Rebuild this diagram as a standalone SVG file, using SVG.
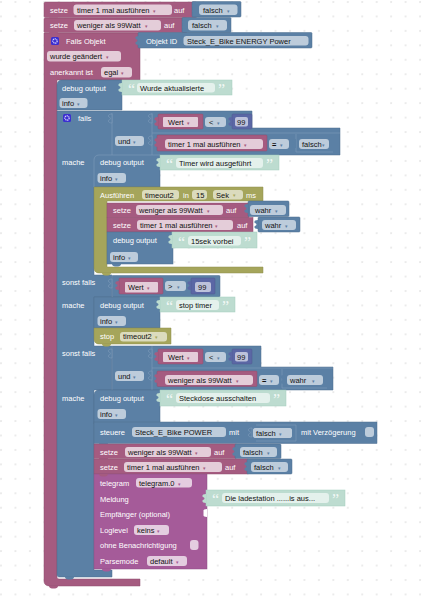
<svg xmlns="http://www.w3.org/2000/svg" width="433" height="596" viewBox="0 0 433 596">
<style>
text{font-family:"Liberation Sans",Arial,sans-serif;font-size:7.5px;fill:#fff}
text.k{fill:#111}
.p{fill:#a55b80}.b{fill:#5b80a5}.o{fill:#a5a55b}.m{fill:#a55b99}.g{fill:#bddcd0}.n{fill:#5b67a5}
.p>rect,.p>path{stroke:#8f4f6f;stroke-width:.5}
.b>rect,.b>path{stroke:#4f6f8f;stroke-width:.5}
.o>rect,.o>path{stroke:#8f8f4f;stroke-width:.5}
.m>rect,.m>path{stroke:#8f4f85;stroke-width:.5}
.n>rect{stroke:#4f598f;stroke-width:.5}
.g>rect{stroke:#a5cfbf;stroke-width:.5}
rect.fp{fill:#e4cdd9;stroke:none}rect.fb{fill:#bdccdb;stroke:none}rect.fo{fill:#dbdbbd;stroke:none}rect.fm{fill:#e4cde0;stroke:none}rect.fg{fill:#e4f1ec;stroke:none}rect.fn{fill:#bdc2db;stroke:none}
text.ap,text.ab,text.ao,text.am{font-size:5px}
text.ap{fill:#a55b80}text.ab{fill:#5b80a5}text.ao{fill:#a5a55b}text.am{fill:#a55b99}
text.q{fill:#fff;font-size:16px;font-family:"Liberation Serif",serif;opacity:.8}
.l{stroke:#7f9cba;stroke-width:.6;fill:none}
.s{fill:#5b80a5;stroke:#7f9cba;stroke-width:.6}
</style>
<defs>
<pattern id="grid" x="0" y="1" width="14.45" height="14.45" patternUnits="userSpaceOnUse">
<path d="M0 1h2M1 0v2" stroke="#dedede" stroke-width=".7"/>
</pattern>
<path id="tab" d="M0 0c-2.500 0-3.500 1-3.500 1.500v1c0 1 2 .5 2 2s-2 1-2 2v1c0 .5 1 1.500 3.500 1.500z"/>
<path id="nt" d="M0 0h9c0 1.500-1.500 2.500-3 2.500h-3c-1.500 0-3-1-3-2.500z"/>
</defs>
<rect x="0" y="0" width="422" height="596" fill="url(#grid)"/>

<g id="outer-frame" class="p">
<path d="M46 33H140V80H57V577c0 1 1 2 2 2H140V586H50c-4 0-6-2-6-5V33z"/>
<use href="#nt" x="49" y="586"/>
</g>

<g id="set-timer-false">
<g class="p"><rect x="44" y="2" width="153" height="15.500" rx="1.500"/><use href="#nt" x="49" y="17.500"/>
<rect class="fp" x="73.500" y="4.500" width="98.500" height="10.500" rx="3"/></g>
<text x="50" y="13">setze</text><text class="k" x="77" y="13">timer 1 mal ausführen</text><text class="ap" x="153" y="12.500">▾</text><text x="174" y="13">auf</text>
<g class="b"><rect x="192" y="1.500" width="49" height="15.500" rx="1"/><use href="#tab" x="196" y="4"/>
<rect class="fb" x="199" y="4.500" width="38.500" height="10.500" rx="3"/></g>
<text class="k" x="203" y="13">falsch</text><text class="ab" x="227" y="12.500">▾</text>
</g>

<g id="set-less99-false">
<g class="p"><rect x="44" y="18" width="143" height="14.500" rx="1"/>
<rect class="fp" x="74" y="20" width="87" height="10.500" rx="3"/></g>
<use href="#nt" class="p" x="49" y="32"/>
<text x="50" y="28">setze</text><text class="k" x="77" y="28">weniger als 99Watt</text><text class="ap" x="145" y="27.500">▾</text><text x="164" y="28">auf</text>
<g class="b"><rect x="182" y="17.500" width="49" height="15" rx="1"/><use href="#tab" x="186" y="20"/>
<rect class="fb" x="188" y="20" width="39" height="10.500" rx="3"/></g>
<text class="k" x="192" y="28">falsch</text><text class="ab" x="216" y="27.500">▾</text>
</g>

<g id="trigger-object">
<rect x="51" y="37" width="8" height="8" rx="1.500" fill="#3b2fd0"/><circle cx="55" cy="41" r="2.200" fill="none" stroke="#dcd8ff" stroke-width="1.200" stroke-dasharray="1.200 .6"/>
<text x="66" y="43.700">Falls Objekt</text>
<g class="p"><rect class="fp" x="47" y="51" width="74" height="10.500" rx="3"/><rect class="fp" x="101" y="67" width="31" height="10.500" rx="3"/></g>
<text class="k" x="50" y="59">wurde geändert</text><text class="ap" x="106" y="58.500">▾</text>
<text x="50" y="75">anerkannt ist</text><text class="k" x="104" y="75">egal</text><text class="ap" x="121" y="74.500">▾</text>
<g class="b"><rect x="138" y="32.500" width="174" height="15.500" rx="1"/><use href="#tab" x="139" y="36"/>
<rect class="fb" x="183.500" y="36" width="125" height="9.500" rx="3"/></g>
<text x="146" y="43.700">Objekt ID</text><text class="k" x="187" y="43.700">Steck_E_Bike ENERGY  Power</text>
</g>

<g id="debug-updated">
<g class="b"><path d="M57 85c0-3 2-5 5-5H122V110H57z"/><rect class="fb" x="59.500" y="98" width="28" height="10" rx="3"/></g>
<text x="62" y="91">debug output</text><text class="k" x="62" y="106">info</text><text class="ab" x="77" y="105.500">▾</text>
<g class="g"><rect x="122" y="80" width="110" height="15"/><use href="#tab" x="122" y="83"/><rect class="fg" x="137" y="83" width="78" height="9.500" rx="3"/></g>
<text class="q" x="128" y="94.500">“</text><text class="q" x="218" y="94.500">”</text><text class="k" x="140" y="91">Wurde aktualisierte</text>
</g>

<g id="if-block">
<path class="b" d="M57 111H252V128H340V155H160V187H94V275H112V297H94V346H112V390H94V570H112V577H59c-1 0-2-1-2-2z" stroke="#4f6f8f" stroke-width=".5"/>
<rect x="63" y="114" width="8" height="8" rx="1.500" fill="#3b2fd0"/><circle cx="67" cy="118" r="2.200" fill="none" stroke="#dcd8ff" stroke-width="1.200" stroke-dasharray="1.200 .6"/>
<text x="78" y="121">falls</text>
<path class="l" d="M112 113V155M152 113V155M152 133H340M296 134V152H333"/>
<use href="#tab" class="s" x="112" y="114"/><use href="#tab" class="s" x="152" y="114"/><use href="#tab" class="s" x="152" y="136"/>
<g class="b"><rect class="fb" x="115" y="136" width="29" height="10" rx="3"/><rect class="fb" x="205" y="117" width="21" height="10" rx="3"/><rect class="fb" x="269" y="139" width="20" height="10" rx="3"/></g>
<text class="k" x="118" y="144">und</text><text class="ab" x="133" y="143.500">▾</text>
<text class="k" x="209" y="125">&lt;</text><text class="ab" x="217" y="124.500">▾</text>
<text class="k" x="272" y="147" font-weight="bold">=</text><text class="ab" x="280" y="146.500">▾</text>
<g class="p"><rect x="158" y="114" width="45" height="15" rx="1"/><use href="#tab" x="158" y="117"/><rect class="fp" x="163" y="117" width="35" height="10" rx="1"/>
<rect x="157" y="135" width="110" height="16" rx="1"/><use href="#tab" x="158" y="138"/><rect class="fp" x="165" y="139" width="98" height="10" rx="3"/></g>
<text class="k" x="168" y="125">Wert</text><text class="ap" x="187" y="124.500">▾</text>
<text class="k" x="168" y="147">timer 1 mal ausführen</text><text class="ap" x="244" y="146.500">▾</text>
<g class="n"><rect x="232" y="114" width="20" height="15" rx="1"/><use href="#tab" x="232" y="117"/><rect class="fn" x="235" y="117" width="13" height="9.500" rx="2"/></g>
<text class="k" x="237" y="125">99</text>
<g class="b"><rect class="fb" x="299" y="139" width="30" height="10" rx="3"/><use href="#tab" x="296" y="139"/></g>
<text class="k" x="302" y="147">falsch</text><text class="ab" x="322" y="146.500">▾</text>
<text x="62" y="165">mache</text>
<text x="62" y="285.400">sonst falls</text>
<text x="62" y="308">mache</text>
<text x="62" y="356">sonst falls</text>
<text x="62" y="400.500">mache</text>
<use href="#nt" class="b" x="65" y="577"/>
</g>

<g id="debug-running">
<path class="l" d="M94 187V160c0-3 2-5 5-5H160"/>
<g class="b"><rect class="fb" x="97.500" y="173" width="28.500" height="10" rx="3"/></g>
<text x="100" y="165">debug output</text><text class="k" x="100" y="181">info</text><text class="ab" x="115" y="180.500">▾</text>
<g class="g"><rect x="160" y="155" width="119" height="15"/><use href="#tab" x="160" y="158"/><rect class="fg" x="176" y="158" width="87" height="10" rx="3"/></g>
<text class="q" x="166" y="169.500">“</text><text class="q" x="266" y="169.500">”</text><text class="k" x="179" y="166">Timer wird ausgeführt</text>
</g>

<g id="timeout-block">
<g class="o"><path d="M94 187H263V201H107V267H263V273H99c-3 0-5-2-5-5z"/>
<rect class="fo" x="142" y="190" width="37" height="9.500" rx="3"/><rect class="fo" x="192" y="190" width="15" height="9.500" rx="3"/><rect class="fo" x="213" y="190" width="30" height="9.500" rx="3"/></g>
<text x="100" y="197.500">Ausführen</text><text class="k" x="145" y="197.500">timeout2</text><text x="183" y="197.500">in</text><text class="k" x="196" y="197.500">15</text><text class="k" x="216" y="197.500">Sek</text><text class="ao" x="233" y="197">▾</text><text x="246" y="197.500">ms</text>
<use href="#nt" class="o" x="102" y="273"/>
</g>

<g id="set-less99-true">
<g class="p"><rect x="107" y="203" width="142" height="14.500"/><rect class="fp" x="136" y="205" width="87" height="10" rx="3"/></g>
<text x="113" y="213">setze</text><text class="k" x="139" y="213">weniger als 99Watt</text><text class="ap" x="207" y="212.500">▾</text><text x="226" y="213">auf</text>
<g class="b"><rect x="248" y="201" width="41" height="15.500" rx="1"/><use href="#tab" x="248" y="204"/><rect class="fb" x="250" y="205" width="36" height="10" rx="3"/></g>
<text class="k" x="255" y="213">wahr</text><text class="ab" x="275" y="212.500">▾</text>
</g>

<g id="set-timer-true">
<g class="p"><rect x="107" y="217.500" width="146" height="14.500"/><rect class="fp" x="137" y="220" width="96" height="10" rx="3"/></g>
<text x="113" y="228">setze</text><text class="k" x="140" y="228">timer 1 mal ausführen</text><text class="ap" x="215" y="227.500">▾</text><text x="237" y="228">auf</text>
<g class="b"><rect x="258" y="217" width="42" height="15" rx="1"/><use href="#tab" x="258" y="220"/><rect class="fb" x="262" y="220" width="34" height="10" rx="3"/></g>
<text class="k" x="265" y="228">wahr</text><text class="ab" x="285" y="227.500">▾</text>
</g>

<g id="debug-15sec">
<g class="b"><rect x="107" y="232" width="66" height="32"/><use href="#nt" x="112" y="264"/><rect class="fb" x="110" y="252" width="28" height="10" rx="3"/></g>
<text x="113" y="243">debug output</text><text class="k" x="113" y="260">info</text><text class="ab" x="128" y="259.500">▾</text>
<g class="g"><rect x="172" y="232" width="85" height="16"/><use href="#tab" x="172" y="235"/><rect class="fg" x="188" y="236" width="53" height="9.500" rx="3"/></g>
<text class="q" x="178" y="247.500">“</text><text class="q" x="244" y="247.500">”</text><text class="k" x="191" y="244">15sek vorbei</text>
</g>

<g id="elseif-1">
<g class="b"><rect x="112" y="275.500" width="108" height="21.500" rx="1"/><rect class="fb" x="165" y="281" width="21" height="10" rx="3"/></g>
<path class="l" d="M112 275V297"/>
<use href="#tab" class="s" x="112" y="279"/>
<text class="k" x="168" y="289">&gt;</text><text class="ab" x="177" y="288.500">▾</text>
<g class="p"><rect x="119" y="278" width="44" height="16" rx="1"/><use href="#tab" x="119" y="281"/><rect class="fp" x="125" y="282" width="33" height="10.500" rx="1"/></g>
<text class="k" x="128" y="290">Wert</text><text class="ap" x="147" y="289.500">▾</text>
<g class="n"><rect x="191" y="278" width="24" height="16" rx="1"/><use href="#tab" x="191" y="281"/><rect class="fn" x="195" y="282" width="16" height="10" rx="2"/></g>
<text class="k" x="198" y="290">99</text>
</g>

<g id="debug-stop">
<g class="b"><rect x="94" y="297" width="66" height="31"/><rect class="fb" x="97.500" y="316" width="28.500" height="10" rx="3"/></g>
<text x="100" y="308">debug output</text><text class="k" x="100" y="324">info</text><text class="ab" x="115" y="323.500">▾</text>
<g class="g"><rect x="160" y="297" width="75" height="15"/><use href="#tab" x="160" y="300"/><rect class="fg" x="176" y="300" width="43" height="10" rx="3"/></g>
<text class="q" x="166" y="311.500">“</text><text class="q" x="222" y="311.500">”</text><text class="k" x="179" y="308">stop timer</text>
</g>

<g id="stop-timeout">
<g class="o"><path d="M94 328H171V344H99c-3 0-5-2-5-5z"/><use href="#nt" x="102" y="344"/><rect class="fo" x="120" y="332" width="47" height="9.500" rx="3"/></g>
<text x="100" y="339">stop</text><text class="k" x="123" y="339">timeout2</text><text class="ao" x="155" y="338.500">▾</text>
</g>

<g id="elseif-2">
<g class="b"><path d="M112 346H261V367H333V390H112z"/><rect class="fb" x="115" y="371" width="29" height="10" rx="3"/><rect class="fb" x="205" y="352" width="21" height="10" rx="3"/><rect class="fb" x="259" y="375" width="20" height="10" rx="3"/></g>
<path class="l" d="M112 346V390M152 346V390M152 368H333M282 369V388H327"/>
<use href="#tab" class="s" x="112" y="349"/><use href="#tab" class="s" x="152" y="349"/><use href="#tab" class="s" x="152" y="371"/>
<text class="k" x="118" y="379">und</text><text class="ab" x="133" y="378.500">▾</text>
<text class="k" x="209" y="360">&lt;</text><text class="ab" x="217" y="359.500">▾</text>
<text class="k" x="262" y="383" font-weight="bold">=</text><text class="ab" x="270" y="382.500">▾</text>
<g class="p"><rect x="158" y="349" width="45" height="15" rx="1"/><use href="#tab" x="158" y="352"/><rect class="fp" x="163" y="352" width="35" height="10" rx="1"/>
<rect x="157" y="371" width="100" height="15.500" rx="1"/><use href="#tab" x="158" y="374"/><rect class="fp" x="165" y="375" width="88" height="10" rx="3"/></g>
<text class="k" x="168" y="360">Wert</text><text class="ap" x="187" y="359.500">▾</text>
<text class="k" x="168" y="383">weniger als 99Watt</text><text class="ap" x="236" y="382.500">▾</text>
<g class="n"><rect x="232" y="349" width="20" height="15" rx="1"/><use href="#tab" x="232" y="352"/><rect class="fn" x="235" y="352" width="13" height="9.500" rx="2"/></g>
<text class="k" x="237" y="360">99</text>
<g class="b"><rect class="fb" x="287" y="375" width="36" height="10" rx="3"/><use href="#tab" x="284" y="375"/></g>
<text class="k" x="290" y="383">wahr</text><text class="ab" x="312" y="382.500">▾</text>
</g>

<g id="debug-socket">
<g class="b"><path d="M94 395c0-3 2-5 5-5H160V424H94z"/><rect class="fb" x="97.500" y="409" width="28.500" height="10" rx="3"/></g>
<text x="100" y="401">debug output</text><text class="k" x="100" y="417">info</text><text class="ab" x="115" y="416.500">▾</text>
<g class="g"><rect x="160" y="390" width="126" height="16"/><use href="#tab" x="160" y="393"/><rect class="fg" x="176" y="393" width="94" height="10" rx="3"/></g>
<text class="q" x="166" y="404.500">“</text><text class="q" x="273" y="404.500">”</text><text class="k" x="179" y="401">Steckdose ausschalten</text>
</g>

<g id="control-state">
<g class="b"><rect x="94" y="422" width="283" height="21.500"/><use href="#nt" x="99" y="443"/><rect class="fb" x="132" y="427" width="94" height="10" rx="3"/><rect class="fb" x="253" y="428" width="39" height="10" rx="3"/><rect class="fb" x="365" y="427" width="9" height="10" rx="3"/></g>
<path class="l" d="M256 425H296V441H256"/>
<use href="#tab" class="s" x="252" y="428"/>
<rect class="fb" x="253" y="428" width="39" height="10" rx="3"/>
<text x="100" y="435">steuere</text><text class="k" x="135" y="435">Steck_E_Bike POWER</text><text x="229" y="435">mit</text><text class="k" x="256" y="436">falsch</text><text class="ab" x="279" y="435.500">▾</text><text x="301" y="435">mit Verzögerung</text>
</g>

<g id="set-less99-false-2">
<g class="p"><rect x="94" y="444" width="142" height="14.500"/><use href="#nt" x="99" y="458"/><rect class="fp" x="125" y="447" width="86" height="10" rx="3"/></g>
<text x="100" y="455">setze</text><text class="k" x="128" y="455">weniger als 99Watt</text><text class="ap" x="195" y="454.500">▾</text><text x="214" y="455">auf</text>
<g class="b"><rect x="235" y="444" width="46" height="14.500" rx="1"/><use href="#tab" x="236" y="447"/><rect class="fb" x="240" y="447" width="37" height="10" rx="3"/></g>
<text class="k" x="243" y="455">falsch</text><text class="ab" x="267" y="454.500">▾</text>
</g>

<g id="set-timer-false-2">
<g class="p"><rect x="94" y="459" width="154" height="15"/><rect class="fp" x="124" y="462" width="98" height="10" rx="3"/></g>
<text x="100" y="470">setze</text><text class="k" x="127" y="470">timer 1 mal ausführen</text><text class="ap" x="203" y="469.500">▾</text><text x="225" y="470">auf</text>
<g class="b"><rect x="247" y="459" width="45" height="15" rx="1"/><use href="#tab" x="248" y="462"/><rect class="fb" x="251" y="462" width="37" height="10" rx="3"/></g>
<text class="k" x="254" y="470">falsch</text><text class="ab" x="278" y="469.500">▾</text>
</g>

<g id="telegram">
<g class="m"><rect x="94" y="474" width="113" height="95"/><use href="#nt" x="102" y="569"/>
<rect class="fm" x="136" y="478" width="56" height="9.500" rx="3"/><rect class="fm" x="134" y="525" width="35" height="10" rx="3"/><rect class="fm" x="190" y="540" width="8.500" height="10" rx="3"/><rect class="fm" x="147" y="556" width="40" height="10" rx="3"/></g>
<use href="#nt" class="p" x="99" y="474"/>
<path d="M207 509c-2.500 0-3.500 1-3.500 1.500v5c0 .5 1 1.500 3.500 1.500z" fill="#fff"/>
<text x="100" y="486">telegram</text><text class="k" x="139" y="486">telegram.0</text><text class="am" x="178" y="485.500">▾</text>
<text x="100" y="502">Meldung</text>
<text x="100" y="517">Empfänger (optional)</text>
<text x="100" y="533">Loglevel</text><text class="k" x="137" y="533">keins</text><text class="am" x="157" y="532.500">▾</text>
<text x="100" y="548">ohne Benachrichtigung</text>
<text x="100" y="564">Parsemode</text><text class="k" x="150" y="564">default</text><text class="am" x="176" y="563.500">▾</text>
<g class="g"><rect x="206" y="490" width="139" height="16"/><use href="#tab" x="206" y="494"/><rect class="fg" x="222" y="493" width="107" height="10" rx="3"/></g>
<text class="q" x="212" y="504.500">“</text><text class="q" x="332" y="504.500">”</text><text class="k" x="225" y="501">Die ladestation ......is aus...</text>
</g>
</svg>
